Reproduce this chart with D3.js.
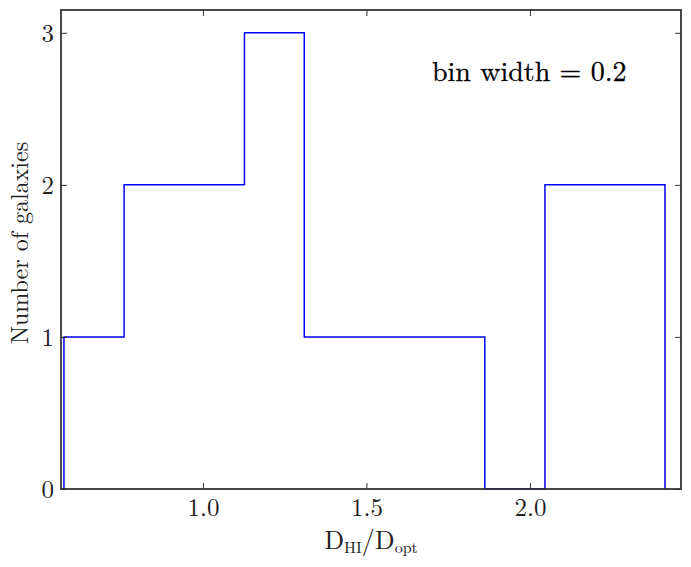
<!DOCTYPE html>
<html>
<head>
<meta charset="utf-8">
<script src="https://cdn.jsdelivr.net/npm/d3@7"></script>
<style>
  html, body { margin: 0; padding: 0; background: #fff; }
  svg { display: block; }
  text { font-family: "CMU Serif", "Latin Modern Roman", "Liberation Serif", "DejaVu Serif", serif; }
</style>
</head>
<body>
<svg id="chart" width="691" height="567"></svg>
<script>
// ---- data ----
const binEdges = [0.575, 0.759, 0.943, 1.127, 1.310, 1.494, 1.678, 1.862, 2.046, 2.230, 2.413];
const counts   = [1, 2, 2, 3, 1, 1, 1, 0, 2, 2];
const xTicks = [1.0, 1.5, 2.0];
const xTickLabels = ["1.0", "1.5", "2.0"];
const yTicks = [0, 1, 2, 3];
const yTickLabels = ["0", "1", "2", "3"];
const xDomain = [0.566, 2.462];
const yDomain = [0, 3.15];
const annotation = "bin width = 0.2";

// ---- layout ----
const W = 691, H = 567;
const m = { left: 61, top: 10, right: 10, bottom: 78 };
const svg = d3.select("#chart");

const x = d3.scaleLinear().domain(xDomain).range([m.left, W - m.right]);
const y = d3.scaleLinear().domain(yDomain).range([H - m.bottom, m.top]);

// histogram step outline
const pts = [];
pts.push([binEdges[0], 0]);
counts.forEach((c, i) => {
  pts.push([binEdges[i], c]);
  pts.push([binEdges[i + 1], c]);
});
pts.push([binEdges[binEdges.length - 1], 0]);

svg.append("path")
  .attr("d", d3.line().x(d => x(d[0])).y(d => y(d[1]))(pts))
  .attr("fill", "none")
  .attr("stroke", "#0000ff")
  .attr("stroke-width", 1.5);

// axes (ticks inward, on all sides)
const tickLen = 6;
const axStyle = g => {
  g.select(".domain").remove();
  g.selectAll(".tick line").attr("stroke", "#333").attr("stroke-width", 1);
};

svg.append("g")
  .attr("transform", `translate(0,${H - m.bottom})`)
  .call(d3.axisBottom(x).tickValues(xTicks).tickSize(-tickLen).tickPadding(10)
        .tickFormat((d, i) => xTickLabels[i]))
  .call(axStyle)
  .call(g => g.selectAll(".tick text").attr("font-size", 25).attr("fill", "#222")
        .attr("y", 9).attr("dy", "0.71em"));

svg.append("g")
  .attr("transform", `translate(0,${m.top})`)
  .call(d3.axisTop(x).tickValues(xTicks).tickSize(-tickLen).tickFormat(""))
  .call(axStyle);

svg.append("g")
  .attr("transform", `translate(${m.left},0)`)
  .call(d3.axisLeft(y).tickValues(yTicks).tickSize(-tickLen)
        .tickFormat((d, i) => yTickLabels[i]))
  .call(axStyle)
  .call(g => g.selectAll(".tick text").attr("font-size", 25).attr("fill", "#222")
        .attr("x", -7).attr("dy", "0.33em"));

svg.append("g")
  .attr("transform", `translate(${W - m.right},0)`)
  .call(d3.axisRight(y).tickValues(yTicks).tickSize(-tickLen).tickFormat(""))
  .call(axStyle);

// frame
svg.append("rect")
  .attr("x", m.left).attr("y", m.top)
  .attr("width", W - m.left - m.right).attr("height", H - m.top - m.bottom)
  .attr("fill", "none").attr("stroke", "#333").attr("stroke-width", 1.8);

// annotation
svg.append("text")
  .attr("x", 432).attr("y", 81)
  .attr("font-size", 28)
  .attr("fill", "#000")
  .attr("stroke", "#000").attr("stroke-width", 0.3)
  .text(annotation);

// x label D_HI / D_opt
const xl = svg.append("text")
  .attr("x", (m.left + W - m.right) / 2).attr("y", 549)
  .attr("text-anchor", "middle")
  .attr("font-size", 26)
  .attr("fill", "#222");
xl.append("tspan").text("D");
xl.append("tspan").attr("font-size", 16).attr("dy", 4).text("HI");
xl.append("tspan").attr("dy", -4).text("/D");
xl.append("tspan").attr("font-size", 16).attr("dy", 4).text("opt");

// y label
svg.append("text")
  .attr("transform", `translate(28,243) rotate(-90)`)
  .attr("text-anchor", "middle")
  .attr("font-size", 24)
  .attr("fill", "#222")
  .text("Number of galaxies");
</script>
</body>
</html>
